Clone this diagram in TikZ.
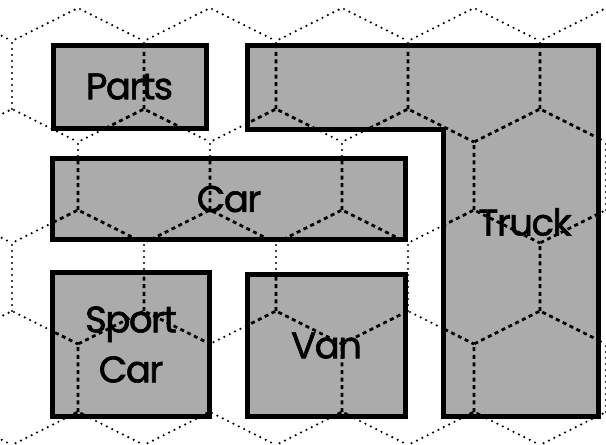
\documentclass[tikz,border=0pt]{standalone}
\usepackage{fontspec}
\setmainfont{Poppins}
\newfontfamily\blockfont{Poppins}[FakeBold=1.6, LetterSpace=-4]
\usepackage{tikz}
\usetikzlibrary{positioning}
\pgfdeclarelayer{background}
\pgfsetlayers{background,main}
\tikzset{
  hexdot/.style={black, line width=1.2pt, line cap=round, dash pattern=on 0pt off 3pt},
  hexdash/.style={black, line width=1.4pt, dash pattern=on 2pt off 1.8pt},
  boxline/.style={draw=black, line width=2.5pt, line join=miter},
  blockfill/.style={fill=black!33},
  blocklbl/.style={font=\blockfont\fontsize{18.5}{25}\selectfont, align=center},
  blockbox/.style={boxline, blocklbl, inner sep=0pt, outer sep=0pt},
}
% one hex = left side and the two top slopes
\newcommand{\hexgrid}[1]{%
  \foreach \hr in {0,...,4} {
    \foreach \hc in {-2,...,5} {
      \pgfmathsetmacro\hx{78+132*\hc+66*mod(\hr,2)}
      \pgfmathsetmacro\hy{8+101*\hr}
      \draw[#1] (\hx-66,\hy+101) -- ++(0,-68) -- ++(66,-33) -- ++(66,33);
    }
  }}

\begin{document}
\begin{tikzpicture}[x=0.5pt, y=-0.5pt]
  \useasboundingbox (0,0) rectangle (606,445);

  % blocks
  \node[blockbox, minimum width=76.5pt, minimum height=41.5pt] (parts) at (129.5,86.5) {Parts};
  \node[blockbox, minimum width=176.5pt, minimum height=40.5pt] (car) at (229,199) {Car};
  \node[blockbox, minimum width=78.5pt, minimum height=72pt] (sportcar) at (131,344.5) {Sport\\Car};
  \node[blockbox, minimum width=79pt, minimum height=71pt] (van) at (326.5,345.5) {Van};

  % truck, L shape
  \coordinate (t1) at (247,45.5);
  \coordinate (t2) at (598.5,45.5);
  \coordinate (t3) at (598.5,416.5);
  \coordinate (t4) at (443.5,416.5);
  \coordinate (t5) at (443.5,129.5);
  \coordinate (t6) at (247,129.5);
  \draw[boxline] (t1) -- (t2) -- (t3) -- (t4) -- (t5) -- (t6) -- cycle;
  \node[blocklbl] (truck) at (525,222) {Truck};

  \begin{pgfonlayer}{background}
    % grid
    \begin{scope}
      \clip (0,0) rectangle (606,445);
      \hexgrid{hexdot}
    \end{scope}
    \fill[blockfill] (parts.south west) rectangle (parts.north east);
    \fill[blockfill] (car.south west) rectangle (car.north east);
    \fill[blockfill] (sportcar.south west) rectangle (sportcar.north east);
    \fill[blockfill] (van.south west) rectangle (van.north east);
    \fill[blockfill] (t1) -- (t2) -- (t3) -- (t4) -- (t5) -- (t6) -- cycle;
    % grid inside the blocks
    \begin{scope}
      \clip (parts.south west) rectangle (parts.north east)
            (car.south west) rectangle (car.north east)
            (sportcar.south west) rectangle (sportcar.north east)
            (van.south west) rectangle (van.north east)
            (t1) -- (t2) -- (t3) -- (t4) -- (t5) -- (t6) -- cycle;
      \hexgrid{hexdash}
    \end{scope}
  \end{pgfonlayer}
\end{tikzpicture}
\end{document}
